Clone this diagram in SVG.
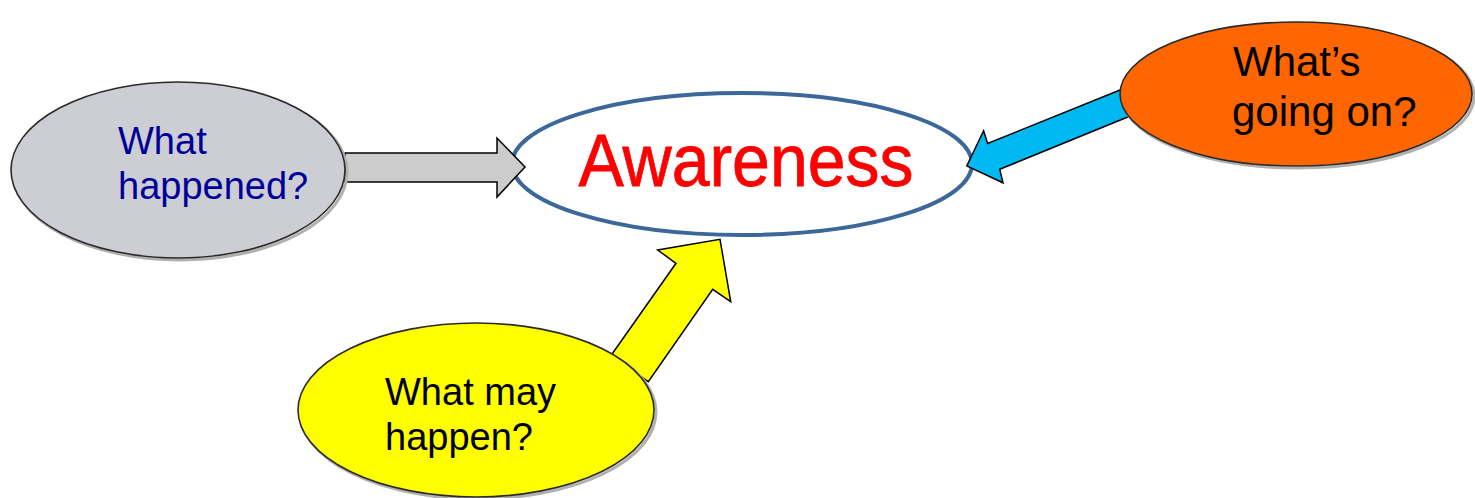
<svg xmlns="http://www.w3.org/2000/svg" width="1475" height="498" viewBox="0 0 1475 498">
<style>
.bubble{stroke:#2a2a2a;stroke-width:1.6}
.shadow{fill:none;stroke:#b0b0b0;stroke-width:3}
.arrow{stroke:#000;stroke-width:1.5;stroke-linejoin:miter}
.lbl{font-family:"Liberation Sans",Arial,Helvetica,sans-serif;font-size:38px}
</style>
<rect width="1475" height="498" fill="#ffffff"/>
<g id="node-awareness">
<ellipse cx="742" cy="164" rx="230" ry="71" fill="#ffffff" stroke="#3b6899" stroke-width="4"/>
<text x="746" y="186" text-anchor="middle" font-family="'Liberation Sans',Arial,Helvetica,sans-serif" font-size="74" fill="#ff0000" stroke="#ff0000" stroke-width="0.8" textLength="335" lengthAdjust="spacingAndGlyphs">Awareness</text>
</g>
<g id="connectors">
<polygon class="arrow" fill="#cccccc" points="345,153 497,153 497,138 525,167 497,197 497,182 345,182"/>
<polygon class="arrow" fill="#00b8f2" points="1125,88 987.6,143.5 983.6,130.7 966.8,166 1003,182.8 999.7,169.3 1135,114"/>
<polygon class="arrow" fill="#ffff00" points="610.7,356 676,263.3 657.7,250 720,239.3 730.7,301.7 712.7,289.3 648.3,381.7"/>
</g>
<g id="node-happened">
<ellipse class="shadow" cx="180" cy="172" rx="167" ry="88"/>
<ellipse class="bubble" cx="178" cy="170" rx="167" ry="88" fill="#cdced4"/>
<text class="lbl" fill="#000099"><tspan x="118" y="154">What</tspan><tspan x="118" y="199">happened?</tspan></text>
</g>
<g id="node-going-on">
<ellipse class="shadow" cx="1298" cy="96" rx="176" ry="72"/>
<ellipse class="bubble" cx="1296" cy="94" rx="176" ry="72" fill="#ff6600"/>
<text class="lbl" fill="#000000" style="font-size:42px"><tspan x="1233" y="76">What’s</tspan><tspan x="1232" y="126">going on?</tspan></text>
</g>
<g id="node-may-happen">
<ellipse class="shadow" cx="478" cy="412" rx="178" ry="87"/>
<ellipse class="bubble" cx="476" cy="410" rx="178" ry="87" fill="#ffff00"/>
<text class="lbl" fill="#000000"><tspan x="385" y="405">What may</tspan><tspan x="385" y="450">happen?</tspan></text>
</g>
</svg>
